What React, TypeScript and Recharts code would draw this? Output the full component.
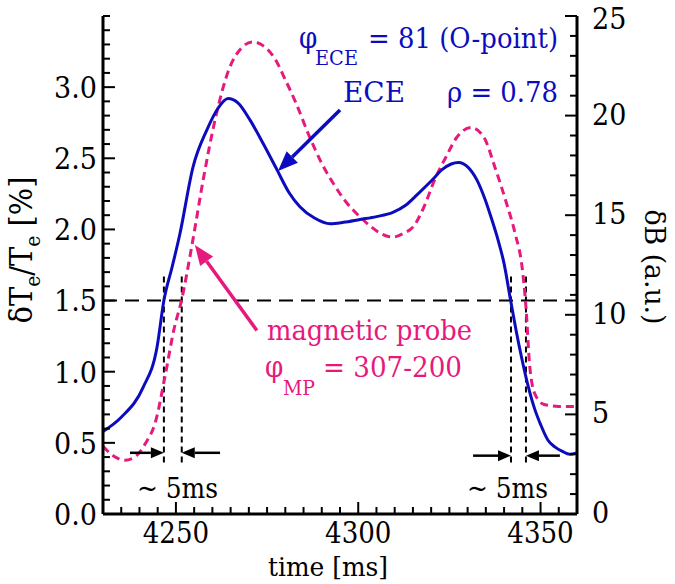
import { ComposedChart, Line, XAxis, YAxis, ReferenceLine } from 'recharts';

const FONT = "'DejaVu Serif Condensed', 'DejaVu Serif'";
const BLUE = '#0c0cbe';
const PINK = '#e6197c';

// ECE, dTe/Te [%] (left axis)
const eceTime = [4230, 4235, 4241, 4244.8, 4246.7, 4249, 4251.1, 4254.7, 4258.5, 4261.5, 4264.3, 4267, 4270.3, 4274, 4277.7, 4281, 4284, 4288, 4292.3, 4296, 4300.5, 4305, 4309.5, 4313, 4316.4, 4320, 4323, 4325.5, 4327.5, 4330, 4332.5, 4334.8, 4336.5, 4338.3, 4340, 4341.8, 4343.3, 4344.8, 4346.5, 4348.5, 4350, 4352, 4354, 4356, 4358, 4360];
const eceValue = [0.58, 0.68, 0.89, 1.17, 1.5, 1.74, 1.97, 2.44, 2.7, 2.85, 2.92, 2.89, 2.77, 2.6, 2.42, 2.26, 2.16, 2.08, 2.04, 2.05, 2.07, 2.09, 2.12, 2.17, 2.25, 2.34, 2.42, 2.46, 2.47, 2.44, 2.35, 2.21, 2.08, 1.93, 1.76, 1.5, 1.29, 1.1, 0.91, 0.73, 0.63, 0.52, 0.47, 0.44, 0.42, 0.43];

// magnetic probe, dB [a.u.] (right axis)
const mpTime = [4230, 4233, 4236, 4239, 4241.5, 4244.5, 4247, 4249.5, 4251.5, 4254.5, 4257.5, 4261, 4264.5, 4268, 4271, 4274, 4277, 4280, 4283, 4286.5, 4290, 4293.5, 4296.5, 4300, 4303, 4306, 4309.5, 4312.5, 4315, 4318, 4321, 4324, 4327, 4331, 4334.5, 4337.5, 4340.5, 4343, 4345, 4346, 4347, 4348.5, 4351, 4355, 4360];
const mpValue = [3.4, 2.9, 2.7, 2.9, 3.5, 4.7, 6.9, 9.3, 10.7, 13.6, 16.8, 20.0, 22.3, 23.4, 23.7, 23.5, 22.9, 21.8, 20.6, 19.0, 17.6, 16.5, 15.7, 15.0, 14.5, 14.1, 13.9, 14.1, 14.4, 15.4, 16.8, 17.9, 18.9, 19.4, 18.9, 17.4, 15.7, 14.1, 12.3, 10.4, 7.5, 6.0, 5.5, 5.4, 5.4];

const timeTicks = [4250, 4300, 4350];
const leftTicks = [0.0, 0.5, 1.0, 1.5, 2.0, 2.5, 3.0];
const rightTicks = [0, 5, 10, 15, 20, 25];

const thresholdLevel = 1.5;
const riseMarks = [4246.7, 4251.6];
const fallMarks = [4341.9, 4346.0];

const eceData = eceTime.map((t, i) => ({ t, v: eceValue[i] }));
const mpData = mpTime.map((t, i) => ({ t, v: mpValue[i] }));

const steps = (a: number, b: number, s: number) => {
  const out: number[] = [];
  for (let v = a; v <= b + 1e-9; v += s) out.push(Math.round(v * 100) / 100);
  return out;
};
const xMinor = steps(4230, 4360, 5);
const leftMinor = steps(0, 3.5, 0.1);
const rightMinor = steps(0, 25, 1);

const isMajor = (v: number, list: number[]) => list.some((m) => Math.abs(m - v) < 1e-6);

const BottomTick = (p: any) => {
  const { x, y, payload } = p;
  const major = isMajor(payload.value, timeTicks);
  return (
    <g>
      <line x1={x} y1={y} x2={x} y2={y - (major ? 12 : 7)} stroke="#000" strokeWidth={2} />
      {major && (
        <text x={x} y={y + 29} textAnchor="middle" fontFamily={FONT} fontSize={29} fill="#000">
          {payload.value}
        </text>
      )}
    </g>
  );
};

const TopTick = (p: any) => {
  const { x, y, payload } = p;
  const major = isMajor(payload.value, timeTicks);
  return <line x1={x} y1={y} x2={x} y2={y + (major ? 12 : 7)} stroke="#000" strokeWidth={2} />;
};

const LeftTick = (p: any) => {
  const { x, y, payload } = p;
  const major = isMajor(payload.value, leftTicks);
  return (
    <g>
      <line x1={x} y1={y} x2={x + (major ? 12 : 7)} y2={y} stroke="#000" strokeWidth={2} />
      {major && (
        <text x={x - 6} y={y} dy="0.36em" textAnchor="end" fontFamily={FONT} fontSize={30} fill="#000">
          {payload.value.toFixed(1)}
        </text>
      )}
    </g>
  );
};

const RightTick = (p: any) => {
  const { x, y, payload } = p;
  const major = isMajor(payload.value, rightTicks);
  const top = payload.value === 25;
  return (
    <g>
      <line x1={x} y1={y} x2={x - (major ? 12 : 7)} y2={y} stroke="#000" strokeWidth={2} />
      {major && (
        <text x={x + 15} y={y + (top ? 13 : 9)} textAnchor="start" fontFamily={FONT} fontSize={30} fill="#000">
          {payload.value}
        </text>
      )}
    </g>
  );
};

const arrow = (color: string, head: number, width: number, sw: number) => (p: any) => {
  const { x1, y1, x2, y2 } = p;
  const a = Math.atan2(y2 - y1, x2 - x1);
  const bx = x2 - head * Math.cos(a);
  const by = y2 - head * Math.sin(a);
  const nx = (-Math.sin(a) * width) / 2;
  const ny = (Math.cos(a) * width) / 2;
  return (
    <g>
      <line x1={x1} y1={y1} x2={bx} y2={by} stroke={color} strokeWidth={sw} />
      <polygon points={`${x2},${y2} ${bx + nx},${by + ny} ${bx - nx},${by - ny}`} fill={color} />
    </g>
  );
};

const axisLine = { stroke: '#000', strokeWidth: 3 };
const fit = { lengthAdjust: 'spacingAndGlyphs' as const };

export default function App() {
  return (
    <div style={{ position: 'absolute', left: 0, top: 0, width: 675, height: 584, background: '#fff' }}>
      <ComposedChart width={675} height={584} margin={{ top: 16, right: 0, bottom: 0, left: 0 }}>
        <XAxis xAxisId="b" dataKey="t" type="number" domain={[4230, 4360]} allowDataOverflow ticks={xMinor} interval={0}
          tickLine={false} tickSize={0} tickMargin={0} height={70} axisLine={axisLine} tick={BottomTick} />
        <XAxis xAxisId="t" orientation="top" type="number" domain={[4230, 4360]} allowDataOverflow ticks={xMinor} interval={0}
          tickLine={false} tickSize={0} tickMargin={0} height={0} axisLine={axisLine} tick={TopTick} />
        <YAxis yAxisId="l" type="number" domain={[0, 3.5]} allowDataOverflow ticks={leftMinor} interval={0}
          tickLine={false} tickSize={0} tickMargin={0} width={103} axisLine={axisLine} tick={LeftTick} />
        <YAxis yAxisId="r" orientation="right" type="number" domain={[0, 25]} allowDataOverflow ticks={rightMinor} interval={0}
          tickLine={false} tickSize={0} tickMargin={0} width={98} axisLine={axisLine} tick={RightTick} />

        <ReferenceLine xAxisId="b" yAxisId="l" y={thresholdLevel} stroke="#000" strokeWidth={2} strokeDasharray="14 8" />
        {[...riseMarks, ...fallMarks].map((m) => (
          <ReferenceLine key={m} xAxisId="b" yAxisId="l" segment={[{ x: m, y: 1.67 }, { x: m, y: 0.36 }]}
            stroke="#000" strokeWidth={2} strokeDasharray="6 4" />
        ))}

        <Line data={mpData} dataKey="v" xAxisId="b" yAxisId="r" type="monotone" stroke={PINK} strokeWidth={3}
          strokeDasharray="8 5" dot={false} isAnimationActive={false} />
        <Line data={eceData} dataKey="v" xAxisId="b" yAxisId="l" type="monotone" stroke={BLUE} strokeWidth={3}
          dot={false} isAnimationActive={false} />

        <ReferenceLine xAxisId="b" yAxisId="l" segment={[{ x: 4295.0, y: 2.84 }, { x: 4278.0, y: 2.41 }]} shape={arrow(BLUE, 20, 16, 3.5)} />
        <ReferenceLine xAxisId="b" yAxisId="l" segment={[{ x: 4272.2, y: 1.29 }, { x: 4255.2, y: 1.89 }]} shape={arrow(PINK, 20, 16, 3.5)} />
        <ReferenceLine xAxisId="b" yAxisId="l" segment={[{ x: 4237.4, y: 0.43 }, { x: riseMarks[0], y: 0.43 }]} shape={arrow('#000', 13, 11, 2.5)} />
        <ReferenceLine xAxisId="b" yAxisId="l" segment={[{ x: 4262.1, y: 0.43 }, { x: riseMarks[1], y: 0.43 }]} shape={arrow('#000', 13, 11, 2.5)} />
        <ReferenceLine xAxisId="b" yAxisId="l" segment={[{ x: 4331.5, y: 0.41 }, { x: fallMarks[0], y: 0.41 }]} shape={arrow('#000', 13, 11, 2.5)} />
        <ReferenceLine xAxisId="b" yAxisId="l" segment={[{ x: 4355.3, y: 0.41 }, { x: fallMarks[1], y: 0.41 }]} shape={arrow('#000', 13, 11, 2.5)} />
      </ComposedChart>

      <svg width={675} height={584} style={{ position: 'absolute', left: 0, top: 0, pointerEvents: 'none' }} fontFamily={FONT}>
        <g fill={BLUE}>
          <text x={299} y={48} fontSize={29}>φ</text>
          <text x={315} y={65} fontSize={20} textLength={43} {...fit}>ECE</text>
          <text x={368} y={48} fontSize={28} textLength={190} {...fit}>= 81 (O-point)</text>
          <text x={343} y={102} fontSize={28} textLength={62} {...fit}>ECE</text>
          <text x={447} y={102} fontSize={28} textLength={111} {...fit}>ρ = 0.78</text>
        </g>
        <g fill={PINK}>
          <text x={267} y={340} fontSize={28} textLength={205} {...fit}>magnetic probe</text>
          <text x={265} y={377} fontSize={29}>φ</text>
          <text x={283} y={395} fontSize={20} textLength={32} {...fit}>MP</text>
          <text x={323} y={377} fontSize={28} textLength={139} {...fit}>= 307-200</text>
        </g>
        <text x={137} y={498} fontSize={27} fill="#000" textLength={81} {...fit}>~ 5ms</text>
        <text x={467} y={498} fontSize={27} fill="#000" textLength={81} {...fit}>~ 5ms</text>

        <text x={328} y={576} textAnchor="middle" fontSize={26} fill="#000" textLength={120} {...fit}>time [ms]</text>
        <text transform="translate(32,250) rotate(-90)" textAnchor="middle" fontSize={32} fill="#000">
          δT<tspan dy={8} fontSize={21}>e</tspan><tspan dy={-8}>/T</tspan><tspan dy={8} fontSize={21}>e</tspan><tspan dy={-8}> [%]</tspan>
        </text>
        <text transform="translate(645,267) rotate(90)" textAnchor="middle" fontSize={27} fill="#000" textLength={115} {...fit}>δB (a.u.)</text>
      </svg>
    </div>
  );
}
